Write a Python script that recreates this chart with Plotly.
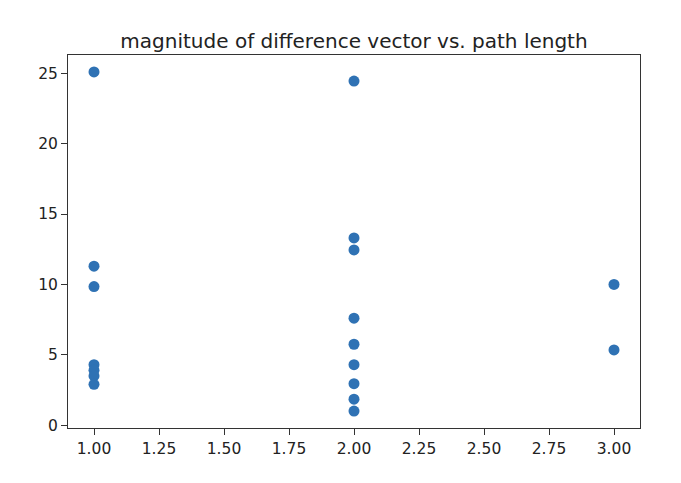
import plotly.graph_objects as go

path_length = [1, 1, 1, 1, 1, 1, 1,
               2, 2, 2, 2, 2, 2, 2, 2, 2,
               3, 3]
diff_magnitude = [25.1, 11.3, 9.85, 4.3, 3.9, 3.5, 2.9,
                  24.45, 13.3, 12.45, 7.6, 5.75, 4.3, 2.95, 1.85, 1.0,
                  10.0, 5.35]

x_ticks = [1.0, 1.25, 1.5, 1.75, 2.0, 2.25, 2.5, 2.75, 3.0]
y_ticks = [0, 5, 10, 15, 20, 25]

fig = go.Figure(go.Scatter(
    x=path_length, y=diff_magnitude, mode="markers",
    marker=dict(color="#2f72b4", size=11, line=dict(width=0)),
))

axis_common = dict(
    showline=True, mirror=True, linecolor="#333333", linewidth=1,
    ticks="outside", ticklen=6, tickwidth=1, tickcolor="#333333",
    showgrid=False, zeroline=False,
    tickfont=dict(family="DejaVu Sans", size=15.5, color="#222222"),
)

fig.update_layout(
    width=681, height=483,
    paper_bgcolor="white", plot_bgcolor="white",
    margin=dict(l=60, r=49, t=47, b=63),
    showlegend=False,
    title=dict(text="magnitude of difference vector vs. path length",
               x=0.5, xanchor="center", xref="paper",
               y=1, yref="paper", yanchor="bottom", pad=dict(b=7),
               font=dict(family="DejaVu Sans", size=20, color="#222222")),
    xaxis=dict(range=[0.9, 3.1], tickvals=x_ticks,
               ticktext=[f"{v:.2f}" for v in x_ticks], **axis_common),
    yaxis=dict(range=[-0.2, 26.3], tickvals=y_ticks, **axis_common),
)

fig.write_html("out.html")
